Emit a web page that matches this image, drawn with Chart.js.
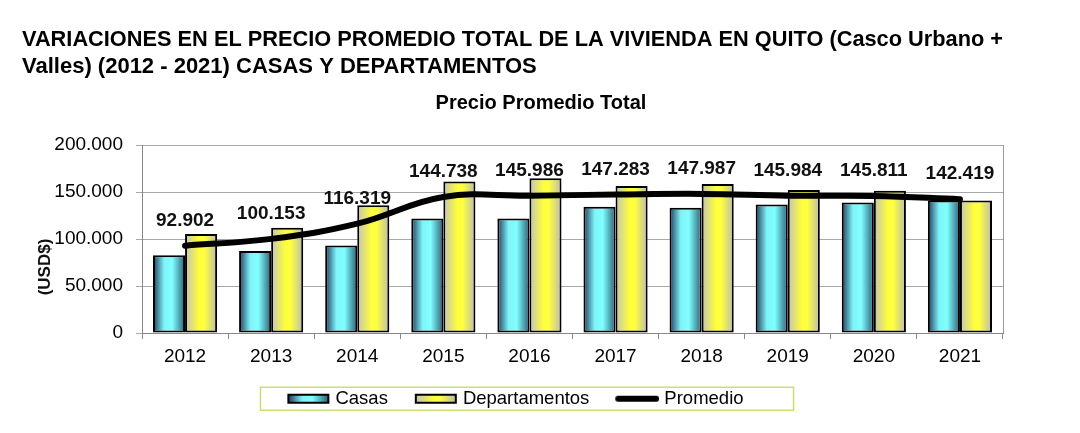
<!DOCTYPE html>
<html>
<head>
<meta charset="utf-8">
<script src="https://cdn.jsdelivr.net/npm/chart.js@4/dist/chart.umd.min.js"></script>
<style>
  html, body { margin: 0; padding: 0; background: #fff; }
  #wrap { width: 1080px; height: 433px; }
</style>
</head>
<body>
<div id="wrap"><canvas id="myChart"></canvas></div>
<script>
const years = ["2012", "2013", "2014", "2015", "2016", "2017", "2018", "2019", "2020", "2021"];
const casas = [82800, 87300, 93000, 121900, 121900, 134300, 133200, 136700, 138800, 140900];
const departamentos = [105300, 112000, 135900, 161300, 164500, 156400, 158600, 152200, 151200, 140900];
const promedio = [92902, 100153, 116319, 144738, 145986, 147283, 147987, 145984, 145811, 142419];
const yTicks = [0, 50000, 100000, 150000, 200000];

const FONT = "'Liberation Sans', Arial, sans-serif";
const CAT_PCT = 0.745;
const LEG_BOX = 44.75;

function fmt(n) {
  return String(n).replace(/\B(?=(\d{3})+(?!\d))/g, ".");
}

const casasStops = [[0, "#1d3b5c"], [0.35, "#7ff4f8"], [0.6, "#80ffff"], [1, "#2a5f78"]];
const deptoStops = [[0, "#c4c4b4"], [0.45, "#ffff3a"], [0.6, "#ffff40"], [1, "#bcbcac"]];

// horizontal gradient for one bar, computed from the x scale
function barFill(ctx, stops, slot) {
  const chart = ctx.chart;
  const xs = chart.scales.x;
  if (!xs || ctx.dataIndex === undefined || !xs.width) return stops[1][1];
  const c = xs.getPixelForValue(ctx.dataIndex);
  const grp = (xs.width / years.length) * CAT_PCT;
  const left = c - grp / 2 + slot * grp / 2;
  const g = chart.ctx.createLinearGradient(left, 0, left + grp / 2, 0);
  stops.forEach((s) => g.addColorStop(s[0], s[1]));
  return g;
}

// legend swatch: transparent margin on the left gives the spacing between items
function legendSwatch(stops, isLine) {
  const cv = document.createElement("canvas");
  const w = Math.round(LEG_BOX + 8.5);
  const off = w - 44;
  cv.width = w;
  cv.height = 12;
  const c = cv.getContext("2d");
  if (isLine) {
    c.strokeStyle = "#000";
    c.lineWidth = 6;
    c.lineCap = "round";
    c.beginPath();
    c.moveTo(off + 3, 6);
    c.lineTo(off + 41, 6);
    c.stroke();
  } else {
    const g = c.createLinearGradient(off + 2, 0, off + 42, 0);
    stops.forEach((s) => g.addColorStop(s[0], s[1]));
    c.fillStyle = g;
    c.fillRect(off + 2, 2, 40, 8);
    c.strokeStyle = "#000";
    c.lineWidth = 2;
    c.strokeRect(off + 2, 2, 40, 8);
  }
  return cv;
}

const swatches = [legendSwatch(casasStops), legendSwatch(deptoStops), legendSwatch(null, true)];

const extras = {
  id: "extras",
  beforeDatasetsDraw(chart) {
    const { ctx, chartArea } = chart;
    ctx.save();
    ctx.strokeStyle = "#9a9a9a";
    ctx.lineWidth = 1;
    ctx.beginPath();
    ctx.moveTo(chartArea.right + 0.5, chartArea.top);
    ctx.lineTo(chartArea.right + 0.5, chartArea.bottom);
    ctx.stroke();
    ctx.restore();
  },
  afterDatasetsDraw(chart) {
    const { ctx } = chart;
    const meta = chart.getDatasetMeta(2);
    ctx.save();
    ctx.font = "bold 19px " + FONT;
    ctx.fillStyle = "#111";
    ctx.textAlign = "center";
    ctx.textBaseline = "middle";
    meta.data.forEach((pt, i) => {
      ctx.fillText(fmt(promedio[i]), pt.x, pt.y - 25);
    });
    ctx.restore();
  },
  afterDraw(chart) {
    const { ctx } = chart;
    ctx.save();
    ctx.fillStyle = "#000";
    ctx.textAlign = "center";
    ctx.textBaseline = "middle";
    // chart subtitle
    ctx.font = "bold 20px " + FONT;
    ctx.fillText("Precio Promedio Total", 541, 103);
    // y axis title
    ctx.translate(45, 267);
    ctx.rotate(-Math.PI / 2);
    ctx.font = "bold 17px " + FONT;
    ctx.fillStyle = "#111";
    ctx.fillText("(USD$)", 0, 0);
    ctx.restore();
    // legend frame
    const boxes = chart.legend.legendHitBoxes;
    if (boxes && boxes.length) {
      const l = Math.min(...boxes.map((b) => b.left)) - 21;
      const r = Math.max(...boxes.map((b) => b.left + b.width)) + 50;
      const t = boxes[0].top + boxes[0].height / 2 - 11.5;
      ctx.save();
      ctx.strokeStyle = "#c9df6e";
      ctx.lineWidth = 1.5;
      ctx.strokeRect(l, t, r - l, 23);
      ctx.restore();
    }
  },
};

new Chart(document.getElementById("myChart"), {
  data: {
    labels: years,
    datasets: [
      {
        type: "bar",
        label: "Casas",
        data: casas,
        order: 1,
        backgroundColor: (c) => barFill(c, casasStops, 0),
        borderColor: "#000",
        borderWidth: 2,
        borderSkipped: false,
        categoryPercentage: CAT_PCT,
        barPercentage: 1,
      },
      {
        type: "bar",
        label: "Departamentos",
        data: departamentos,
        order: 2,
        backgroundColor: (c) => barFill(c, deptoStops, 1),
        borderColor: "#000",
        borderWidth: 2,
        borderSkipped: false,
        categoryPercentage: CAT_PCT,
        barPercentage: 1,
      },
      {
        type: "line",
        label: "Promedio",
        data: promedio,
        order: 0,
        borderColor: "#000",
        backgroundColor: "#000",
        borderWidth: 6,
        tension: 0.4,
        pointRadius: 0,
        borderCapStyle: "round",
      },
    ],
  },
  options: {
    responsive: true,
    maintainAspectRatio: false,
    animation: false,
    devicePixelRatio: 1,
    layout: { padding: { left: 22, right: 77, top: 0, bottom: 15 } },
    plugins: {
      tooltip: { enabled: false },
      title: {
        display: true,
        align: "start",
        text: [
          "VARIACIONES EN EL PRECIO PROMEDIO TOTAL DE LA VIVIENDA EN QUITO (Casco Urbano +",
          "Valles) (2012 - 2021) CASAS Y DEPARTAMENTOS",
        ],
        color: "#000",
        font: { family: FONT, size: 22, weight: "bold", lineHeight: 1.2 },
        padding: { top: 27, bottom: 65.2 },
      },
      legend: {
        position: "bottom",
        labels: {
          color: "#000",
          font: { family: FONT, size: 18.5 },
          usePointStyle: true,
          pointStyleWidth: LEG_BOX,
          boxHeight: 12,
          padding: 21,
          sort: (a, b) => a.datasetIndex - b.datasetIndex,
          generateLabels(chart) {
            const items = Chart.defaults.plugins.legend.labels.generateLabels(chart);
            items.forEach((it) => {
              it.pointStyle = swatches[it.datasetIndex];
            });
            return items;
          },
        },
      },
    },
    scales: {
      x: {
        offset: true,
        afterFit(scale) {
          scale.height = 35.5;
        },
        grid: { drawOnChartArea: false, drawTicks: true, tickLength: 6, color: "#888", offset: true },
        border: { color: "#888" },
        ticks: { color: "#000", font: { family: FONT, size: 19 }, padding: 6.6 },
      },
      y: {
        min: 0,
        max: 200000,
        afterFit(scale) {
          scale.width = 120;
        },
        afterBuildTicks(scale) {
          scale.ticks = yTicks.map((v) => ({ value: v }));
        },
        grid: { color: "#a8a8a8", tickLength: 6 },
        border: { color: "#888" },
        ticks: {
          color: "#000",
          font: { family: FONT, size: 19 },
          padding: 13,
          callback: (v) => fmt(v),
        },
      },
    },
  },
  plugins: [extras],
});
</script>
</body>
</html>
